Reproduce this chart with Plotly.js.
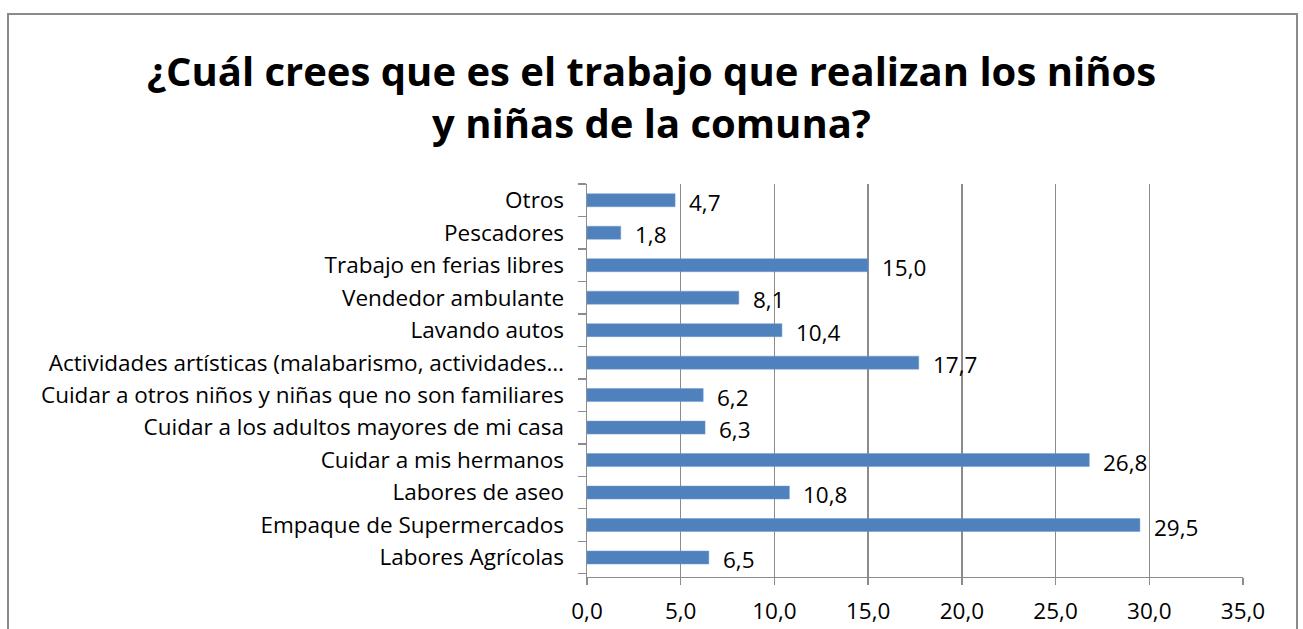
<!DOCTYPE html>
<html><head><meta charset="utf-8">
<script src="https://cdn.plot.ly/plotly-3.0.1.min.js"></script>
<style>
html,body{margin:0;padding:0;background:#fff;}
#wrap{position:relative;width:1303px;height:629px;overflow:hidden;}
#chart{width:1303px;height:629px;}
#frame{position:absolute;left:7px;top:13px;width:1287px;height:700px;border:2px solid #8a8a8a;pointer-events:none;}
</style></head>
<body>
<div id="wrap"><div id="chart"></div><div id="frame"></div></div>
<script>
const categories = [
  "Labores Agrícolas",
  "Empaque de Supermercados",
  "Labores de aseo",
  "Cuidar a mis hermanos",
  "Cuidar a los adultos mayores de mi casa",
  "Cuidar a otros niños y niñas que no son familiares",
  "Actividades artísticas (malabarismo, actividades…",
  "Lavando autos",
  "Vendedor ambulante",
  "Trabajo en ferias libres",
  "Pescadores",
  "Otros"
];
const values = [6.5, 29.5, 10.8, 26.8, 6.3, 6.2, 17.7, 10.4, 8.1, 15.0, 1.8, 4.7];
const xTicks = [0, 5, 10, 15, 20, 25, 30, 35];
const xTickLabels = ["0,0", "5,0", "10,0", "15,0", "20,0", "25,0", "30,0", "35,0"];
const titleText = "¿Cuál crees que es el trabajo que realizan los niños<br>y niñas de la comuna?";

const fontFam = "Open Sans, Noto Sans, sans-serif";

const trace = {
  type: "bar",
  orientation: "h",
  y: categories,
  x: values,
  width: 0.4,
  marker: {color: "#4F81BD", line: {color: "#6f9ad0", width: 0.5}},
  hoverinfo: "skip"
};

const annotations = values.map((v, i) => ({
  x: v, y: categories[i], xref: "x", yref: "y",
  text: v.toFixed(1).replace(".", ","),
  showarrow: false, xanchor: "left", yanchor: "middle",
  xshift: 12, yshift: -2,
  font: {family: fontFam, size: 22.5, color: "#000"}
}));

const layout = {
  width: 1303, height: 629,
  margin: {l: 587, r: 60, t: 184, b: 52, pad: 0},
  paper_bgcolor: "#fff", plot_bgcolor: "#fff",
  showlegend: false,
  title: {
    text: titleText,
    x: 0.5, xref: "container", xanchor: "center",
    y: 0.864, yref: "container", yanchor: "middle",
    font: {family: fontFam, size: 40, color: "#000", weight: "bold"}
  },
  xaxis: {
    range: [0, 35],
    tickmode: "array", tickvals: xTicks, ticktext: xTickLabels,
    showgrid: true, gridcolor: "#8c8c8c", gridwidth: 1.4,
    zeroline: false,
    showline: true, linecolor: "#8c8c8c", linewidth: 1.4,
    ticks: "outside", ticklen: 7, tickcolor: "#8c8c8c", tickwidth: 1.4,
    tickfont: {family: fontFam, size: 22.5, color: "#000"},
    ticklabelstandoff: 7,
    fixedrange: true
  },
  yaxis: {
    type: "category",
    categoryorder: "array", categoryarray: categories,
    showgrid: false, zeroline: false,
    showline: true, linecolor: "#8c8c8c", linewidth: 1.4,
    ticks: "outside", ticklen: 8, tickcolor: "#8c8c8c", tickwidth: 1.4,
    tickson: "boundaries",
    tickfont: {family: fontFam, size: 22.5, color: "#000"},
    ticklabelstandoff: 17,
    fixedrange: true
  },
  annotations: annotations
};

Plotly.newPlot("chart", [trace], layout, {displayModeBar: false, staticPlot: true});
</script>
</body></html>
